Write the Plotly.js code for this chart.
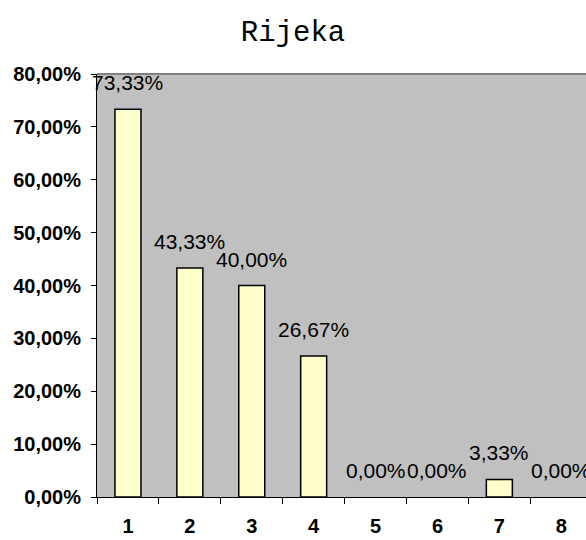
<!DOCTYPE html>
<html>
<head>
<meta charset="utf-8">
<script src="https://cdn.plot.ly/plotly-3.0.1.min.js"></script>
<style>html,body{margin:0;padding:0;background:#fff;}#chart{width:586px;height:540px;}</style>
</head>
<body>
<div id="chart"></div>
<script>
const categories = ["1", "2", "3", "4", "5", "6", "7", "8"];
const values = [0.7333, 0.4333, 0.40, 0.2667, 0.0, 0.0, 0.0333, 0.0];
const yTicks = [0, 0.1, 0.2, 0.3, 0.4, 0.5, 0.6, 0.7, 0.8];
const titleText = "Rijeka";

const fmt = v => (v * 100).toFixed(2).replace('.', ',') + '%';

const trace = {
  type: 'bar',
  x: categories,
  y: values,
  width: 0.42,
  marker: {color: '#ffffcc', line: {color: '#000000', width: values.map(v => v > 0 ? 1.5 : 0)}},
  hoverinfo: 'none'
};

const annotations = categories.map((c, i) => ({
  x: i, y: values[i], xref: 'x', yref: 'y',
  text: fmt(values[i]), showarrow: false,
  yanchor: 'bottom', xanchor: 'center', yshift: 13,
  font: {family: 'Liberation Sans, Arial, sans-serif', size: 21, color: '#000'}
}));

const layout = {
  width: 586, height: 540,
  margin: {l: 97, r: 0, t: 74, b: 43, pad: 0},
  paper_bgcolor: '#ffffff',
  plot_bgcolor: '#c0c0c0',
  separators: ',.',
  showlegend: false,
  title: {
    text: titleText, x: 0.5, xref: 'container', xanchor: 'center',
    y: 1 - 31 / 540, yref: 'container', yanchor: 'middle',
    font: {family: 'Liberation Mono, Courier New, monospace', size: 29, color: '#000'}
  },
  xaxis: {
    type: 'category',
    range: [-0.5, 7.4],
    tickson: 'boundaries',
    ticks: 'outside', ticklen: 6, tickcolor: '#000', tickwidth: 1,
    showline: true, linecolor: '#000', linewidth: 1,
    showgrid: false, zeroline: false,
    ticklabelstandoff: 11,
    tickfont: {family: 'Liberation Sans, Arial, sans-serif', size: 20, color: '#000', weight: 'bold'}
  },
  yaxis: {
    range: [0, 0.8],
    tickvals: yTicks,
    tickformat: '.2%',
    ticks: 'outside', ticklen: 5, tickcolor: '#000', tickwidth: 1,
    showline: true, linecolor: '#000', linewidth: 1,
    showgrid: false, zeroline: false,
    ticklabelstandoff: 6,
    tickfont: {family: 'Liberation Sans, Arial, sans-serif', size: 20, color: '#000', weight: 'bold'}
  },
  shapes: [{
    type: 'line', xref: 'paper', yref: 'paper', x0: 0, x1: 1, y0: 1, y1: 1,
    line: {color: '#808080', width: 2}
  }],
  annotations: annotations
};

Plotly.newPlot('chart', [trace], layout, {displayModeBar: false, staticPlot: true});
</script>
</body>
</html>
